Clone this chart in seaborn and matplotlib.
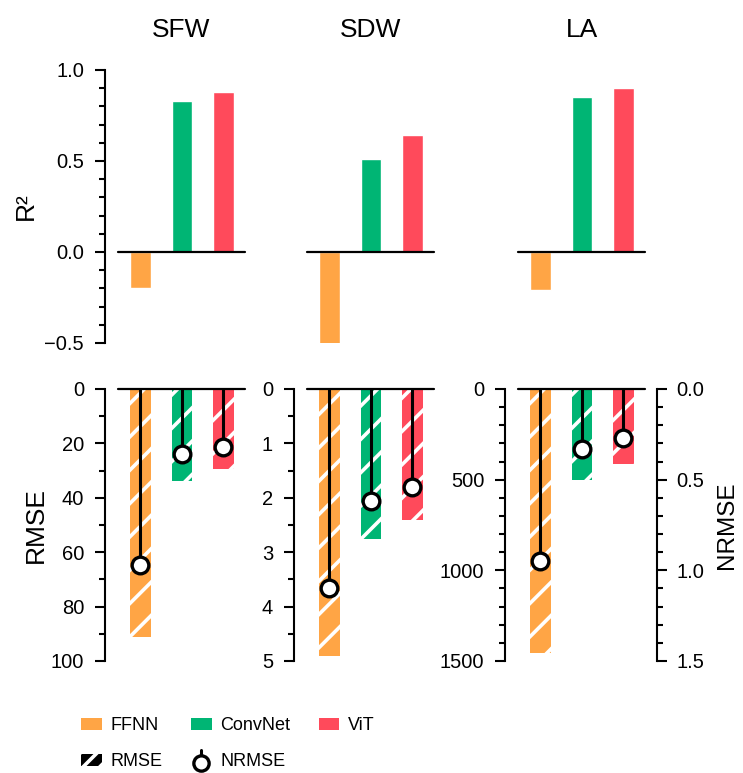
import numpy as np
import matplotlib
matplotlib.use('Agg')
import matplotlib.pyplot as plt
import matplotlib.patches as mpatches
from matplotlib.lines import Line2D
from matplotlib.legend_handler import HandlerBase
from matplotlib.ticker import MultipleLocator, FormatStrFormatter
import seaborn as sns

sns.set_style("ticks")
plt.rcParams['font.family'] = ['Liberation Sans', 'DejaVu Sans']
plt.rcParams['hatch.linewidth'] = 2.6
for k in ['text.color', 'axes.labelcolor', 'xtick.color', 'ytick.color', 'axes.edgecolor']:
    plt.rcParams[k] = 'black'

''' DATA
'''
models = ['FFNN', 'ConvNet', 'ViT']
traits = ['SFW', 'SDW', 'LA']
colors = ['#FFA545', '#00B574', '#FF4A5B']

r2_sfw = [-0.20, 0.83, 0.88]
r2_sdw = [-0.51, 0.51, 0.64]
r2_la = [-0.21, 0.85, 0.90]

rmse_sfw = [91.2, 33.7, 29.4]
rmse_sdw = [4.90, 2.76, 2.41]
rmse_la = [1456, 502, 414]

nrmse_sfw = [0.97, 0.36, 0.32]
nrmse_sdw = [1.10, 0.62, 0.54]
nrmse_la = [0.95, 0.33, 0.27]

rmse_lim = [100, 5, 1500]
rmse_major = [20, 1, 500]
rmse_minor = [10, 0.5, 100]

r2_all = [r2_sfw, r2_sdw, r2_la]
rmse_all = [rmse_sfw, rmse_sdw, rmse_la]
nrmse_all = [nrmse_sfw, nrmse_sdw, nrmse_la]


class HandlerStemMark(HandlerBase):
    def create_artists(self, legend, orig_handle, xdescent, ydescent,
                       width, height, fontsize, trans):
        cx = -xdescent + width / 2
        y0 = -ydescent
        stem = Line2D([cx, cx], [y0 + 0.4 * height, y0 + 1.3 * height],
                      color='k', lw=2.2, transform=trans)
        mark = Line2D([cx], [y0 + 0.3 * height], marker='o', ms=11,
                      mfc='white', mec='k', mew=2.4, ls='none', transform=trans)
        return [stem, mark]


def style_left(ax, major, minor):
    ax.spines['left'].set_position(('outward', 9.4))
    ax.spines['left'].set_linewidth(1.5)
    ax.yaxis.set_major_locator(MultipleLocator(major))
    ax.yaxis.set_minor_locator(MultipleLocator(minor))
    ax.tick_params(axis='y', which='major', length=7, width=1.5, labelsize=14.5, pad=8)
    ax.tick_params(axis='y', which='minor', length=4.3, width=1.5)


fig = plt.figure(figsize=(7.43, 7.73), dpi=100)
lefts = [0.1588, 0.4132, 0.6972]
w = 0.1709
xpos = np.arange(3)

for i, trait in enumerate(traits):
    #TOP: R2
    ax = fig.add_axes([lefts[i], 0.5563, w, 0.3532])
    sns.barplot(x=models, y=r2_all[i], hue=models, palette=colors, width=0.5,
                saturation=1, legend=False, ax=ax)
    ax.set_xlim(-0.54, 2.52)
    ax.set_ylim(-0.5, 1.0)
    ax.axhline(0, color='k', lw=1.6, clip_on=False)
    sns.despine(ax=ax, bottom=True)
    ax.set_xticks([])
    ax.set_xlabel('')
    ax.set_title(trait, fontsize=19, pad=24)
    if i == 0:
        style_left(ax, 0.5, 0.1)
        ax.set_ylabel('R²', fontsize=19)
        ax.yaxis.set_label_coords(-0.63, 0.5)
    else:
        ax.spines['left'].set_visible(False)
        ax.set_yticks([])
        ax.set_ylabel('')

    #BOTTOM: RMSE + NRMSE
    ax = fig.add_axes([lefts[i], 0.1449, w, 0.3519])
    sns.barplot(x=models, y=rmse_all[i], hue=models, palette=colors, width=0.5,
                saturation=1, legend=False, ax=ax)
    for p in ax.patches:
        p.set_hatch('/')
        p.set_edgecolor('white')
        p.set_linewidth(0)
        if hasattr(p, 'set_hatchcolor'):
            p.set_hatchcolor('white')
    ax.set_xlim(-0.54, 2.52)
    ax.set_ylim(rmse_lim[i], 0)
    ax.axhline(0, color='k', lw=1.6, clip_on=False)
    sns.despine(ax=ax, bottom=True)
    ax.set_xticks([])
    ax.set_xlabel('')
    style_left(ax, rmse_major[i], rmse_minor[i])
    if i == 0:
        ax.set_ylabel('RMSE', fontsize=19)
        ax.yaxis.set_label_coords(-0.55, 0.5)
    else:
        ax.set_ylabel('')

    tw = ax.twinx()
    tw.set_ylim(1.5, 0)
    tw.vlines(xpos, 0, nrmse_all[i], color='k', lw=2.2)
    tw.plot(xpos, nrmse_all[i], 'o', ms=12, mfc='white', mec='k', mew=2.4, ls='none')
    for s in ['top', 'bottom', 'left']:
        tw.spines[s].set_visible(False)
    if i == 2:
        tw.spines['right'].set_position(('outward', 8.6))
        tw.spines['right'].set_linewidth(1.5)
        tw.yaxis.set_major_locator(MultipleLocator(0.5))
        tw.yaxis.set_minor_locator(MultipleLocator(0.1))
        tw.yaxis.set_major_formatter(FormatStrFormatter('%.1f'))
        tw.tick_params(axis='y', which='major', length=7, width=1.5, labelsize=14.5, pad=7)
        tw.tick_params(axis='y', which='minor', length=4.3, width=1.5)
        tw.set_ylabel('NRMSE', fontsize=17.5)
        tw.yaxis.set_label_coords(1.56, 0.5)
    else:
        tw.spines['right'].set_visible(False)
        tw.set_yticks([])
    tw.set_xlim(-0.54, 2.52)

#LEGEND
h_model = [mpatches.Patch(facecolor=c, linewidth=0) for c in colors]
h_rmse = mpatches.Patch(facecolor='black', edgecolor='white', hatch='//', linewidth=0)
h_nrmse = Line2D([], [])
handles = [h_model[0], h_rmse, h_model[1], h_nrmse, h_model[2]]
labels = ['FFNN', 'RMSE', 'ConvNet', 'NRMSE', 'ViT']
fig.legend(handles, labels, ncol=3, loc='upper left', bbox_to_anchor=(0.109, 0.072),
           frameon=False, fontsize=13, handlelength=1.15, handletextpad=0.5,
           columnspacing=1.55, labelspacing=1.05, borderpad=0, borderaxespad=0,
           handler_map={h_nrmse: HandlerStemMark()})

plt.savefig('out.png', dpi=100)
